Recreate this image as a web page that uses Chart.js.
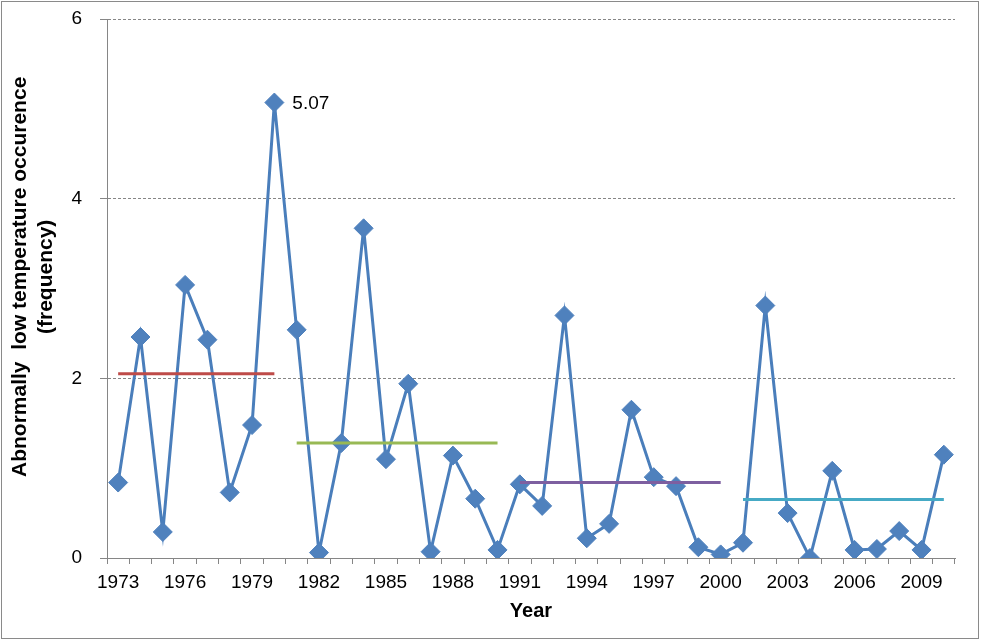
<!DOCTYPE html>
<html>
<head>
<meta charset="utf-8">
<script src="https://cdn.jsdelivr.net/npm/chart.js@4/dist/chart.umd.min.js"></script>
<style>
  html, body { margin: 0; padding: 0; background: #fff; }
  #wrap { position: relative; width: 982px; height: 642px; }
  #frame { position: absolute; left: 1px; top: 1px; width: 976px; height: 636px; border: 1px solid #8a8a8a; pointer-events: none; }
  canvas { position: absolute; left: 0; top: 0; }
</style>
</head>
<body>
<div id="wrap">
  <canvas id="chart" width="982" height="642"></canvas>
  <div id="frame"></div>
</div>
<script>
// Data
const years = [1973, 1974, 1975, 1976, 1977, 1978, 1979, 1980, 1981, 1982,
               1983, 1984, 1985, 1986, 1987, 1988, 1989, 1990, 1991, 1992,
               1993, 1994, 1995, 1996, 1997, 1998, 1999, 2000, 2001, 2002,
               2003, 2004, 2005, 2006, 2007, 2008, 2009, 2010];
const frequency = [0.84, 2.46, 0.29, 3.04, 2.43, 0.73, 1.48, 5.07, 2.54, 0.06,
                   1.28, 3.67, 1.10, 1.94, 0.07, 1.14, 0.66, 0.09, 0.82, 0.58,
                   2.70, 0.22, 0.38, 1.65, 0.90, 0.80, 0.12, 0.04, 0.17, 2.81,
                   0.50, 0.00, 0.97, 0.09, 0.10, 0.30, 0.09, 1.15];
// decade averages (horizontal segments)
const decadeStart = [1973, 1981, 1991, 2001];
const decadeEnd = [1980, 1990, 2000, 2010];
const decadeMean = [2.05, 1.28, 0.84, 0.65];
const decadeColors = ['#BE4B48', '#98B954', '#7D5FA0', '#46AAC5'];
const yTicks = [0, 2, 4, 6];
const labelledYear = 1980;

const axisGray = '#868686';

// one dataset per decade mean, null outside its decade
const meanSets = decadeMean.map((m, k) => ({
    label: 'Mean ' + decadeStart[k] + '-' + decadeEnd[k],
    data: years.map(y => (y >= decadeStart[k] && y <= decadeEnd[k]) ? m : null),
    borderColor: decadeColors[k],
    borderWidth: 3,
    pointRadius: 0,
    spanGaps: false,
    order: 0
}));

// draws the "5.07" value next to its point
const valueLabel = {
    id: 'valueLabel',
    afterDatasetsDraw(chart) {
        const idx = years.indexOf(labelledYear);
        const dsIndex = chart.data.datasets.findIndex(d => d.label === 'Frequency');
        const pt = chart.getDatasetMeta(dsIndex).data[idx];
        const ctx = chart.ctx;
        ctx.save();
        ctx.font = '19px "Liberation Sans", Arial, sans-serif';
        ctx.fillStyle = '#000';
        ctx.textAlign = 'left';
        ctx.textBaseline = 'middle';
        ctx.fillText(frequency[idx].toFixed(2), pt.x + 18, pt.y + 1);
        ctx.restore();
    }
};

const ctx = document.getElementById('chart').getContext('2d');
new Chart(ctx, {
    type: 'line',
    data: {
        labels: years.map(String),
        datasets: [
            ...meanSets,
            {
                label: 'Frequency',
                data: frequency,
                borderColor: '#4A7EBB',
                borderWidth: 3,
                backgroundColor: '#4F81BD',
                pointStyle: 'rectRot',
                pointRadius: 9.5,
                pointBorderWidth: 1,
                pointBorderColor: '#4F81BD',
                pointBackgroundColor: '#4F81BD',
                tension: 0,
                order: 1
            }
        ]
    },
    options: {
        responsive: false,
        animation: false,
        layout: {
            padding: { top: 19, right: 27, bottom: 0, left: 0 }
        },
        plugins: {
            legend: { display: false },
            tooltip: { enabled: false }
        },
        scales: {
            x: {
                type: 'category',
                offset: true,
                afterFit(scale) { scale.height = 84; },
                grid: {
                    offset: true,
                    drawOnChartArea: false,
                    drawTicks: true,
                    tickLength: 6,
                    tickColor: axisGray,
                    color: axisGray
                },
                border: { display: true, color: axisGray, width: 1 },
                ticks: {
                    autoSkip: false,
                    maxRotation: 0,
                    minRotation: 0,
                    padding: 7,
                    color: '#000',
                    font: { family: '"Liberation Sans", Arial, sans-serif', size: 19 },
                    callback: function(value, index) {
                        return index % 3 === 0 ? this.getLabelForValue(value) : '';
                    }
                },
                title: {
                    display: true,
                    text: 'Year',
                    color: '#000',
                    padding: { top: 0, bottom: 19 },
                    font: { family: '"Liberation Sans", Arial, sans-serif', size: 20, weight: 'bold', lineHeight: 1.2 }
                }
            },
            y: {
                min: 0,
                max: 6,
                afterFit(scale) {
                    scale.width = 107;
                    // tick padding would otherwise push the plot top down
                    scale.paddingTop = 0;
                    scale.paddingBottom = 0;
                },
                afterBuildTicks(scale) {
                    scale.ticks = yTicks.map(v => ({ value: v }));
                },
                grid: {
                    color: (c) => c.tick && c.tick.value === 0 ? 'rgba(0,0,0,0)' : axisGray,
                    lineWidth: 1,
                    drawTicks: true,
                    tickLength: 7,
                    tickColor: axisGray
                },
                border: { display: true, color: axisGray, width: 1, dash: [3, 2] },
                ticks: {
                    padding: 18,
                    color: '#000',
                    font: { family: '"Liberation Sans", Arial, sans-serif', size: 19 }
                },
                title: {
                    display: true,
                    // leading spaces nudge the centred title slightly upward, as in the original
                    text: ['    Abnormally  low temperature occurence', '    (frequency)'],
                    color: '#000',
                    padding: { top: 8, bottom: 0 },
                    font: { family: '"Liberation Sans", Arial, sans-serif', size: 21, weight: 'bold', lineHeight: 1.2 }
                }
            }
        }
    },
    plugins: [valueLabel]
});
</script>
</body>
</html>
